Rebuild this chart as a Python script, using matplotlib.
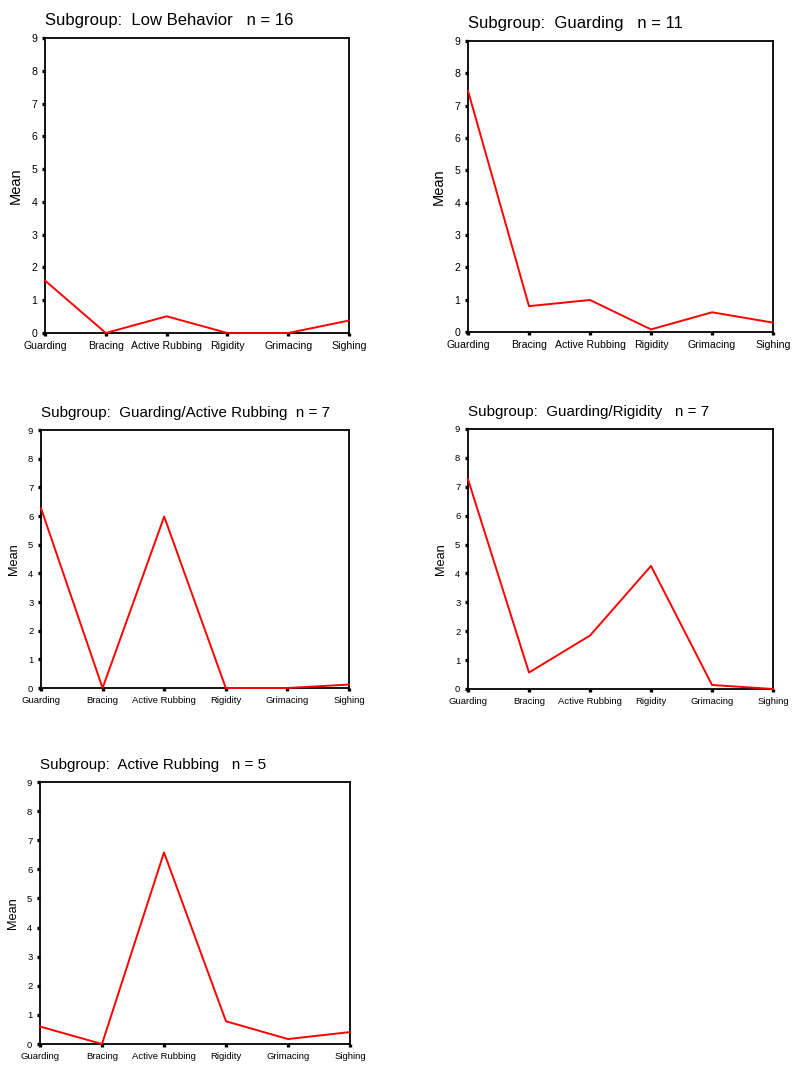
import matplotlib
matplotlib.use("Agg")
import matplotlib.pyplot as plt

plt.rcParams['font.family'] = ['Liberation Sans', 'DejaVu Sans']

categories = ['Guarding', 'Bracing', 'Active Rubbing', 'Rigidity', 'Grimacing', 'Sighing']

low_behavior = [1.6, 0.0, 0.51, 0.0, 0.0, 0.38]
guarding = [7.46, 0.80, 0.99, 0.08, 0.61, 0.29]
guarding_rubbing = [6.27, 0.0, 5.98, 0.0, 0.0, 0.12]
guarding_rigidity = [7.26, 0.57, 1.85, 4.26, 0.14, 0.0]
active_rubbing = [0.6, 0.0, 6.58, 0.78, 0.17, 0.41]

titles = [
    'Subgroup:  Low Behavior   n = 16',
    'Subgroup:  Guarding   n = 11',
    'Subgroup:  Guarding/Active Rubbing  n = 7',
    'Subgroup:  Guarding/Rigidity   n = 7',
    'Subgroup:  Active Rubbing   n = 5',
]
series = [low_behavior, guarding, guarding_rubbing, guarding_rigidity, active_rubbing]

W, H = 800, 1075
# pixel boxes (left, top, right, bottom) for each panel
boxes = [
    (45, 38, 349, 333),
    (468, 41, 773, 332),
    (41, 430, 349, 688),
    (468, 429, 773, 689),
    (40, 782, 350, 1044),
]
# top row rendered a bit larger than the rest
title_sizes = [12, 12, 10.9, 10.9, 10.9]
tick_sizes = [7.6, 7.6, 6.8, 6.8, 6.8]
label_sizes = [10.5, 10.5, 9.2, 9.2, 9.2]

fig = plt.figure(figsize=(W / 100, H / 100), dpi=100)

for i, (vals, title) in enumerate(zip(series, titles)):
    l, t, r, b = boxes[i]
    ax = fig.add_axes([l / W, 1 - b / H, (r - l) / W, (b - t) / H])
    x = range(len(categories))
    ax.plot(x, vals, color='#ff0000', linewidth=1.4, clip_on=False, zorder=3)
    ax.set_xlim(0, len(categories) - 1)
    ax.set_ylim(0, 9)
    ax.set_xticks(list(x))
    ax.set_xticklabels(categories, fontsize=tick_sizes[i])
    ax.set_yticks(range(10))
    ax.set_yticklabels([str(v) for v in range(10)], fontsize=tick_sizes[i])
    ax.tick_params(direction='out', length=2.5, width=2.4, color='black', pad=3)
    for s in ax.spines.values():
        s.set_linewidth(1.3)
        s.set_color('black')
    ax.set_ylabel('Mean', fontsize=label_sizes[i], labelpad=6)
    ax.set_title(title, loc='left', fontsize=title_sizes[i], pad=9)

fig.savefig('out.png', dpi=100, facecolor='white')
